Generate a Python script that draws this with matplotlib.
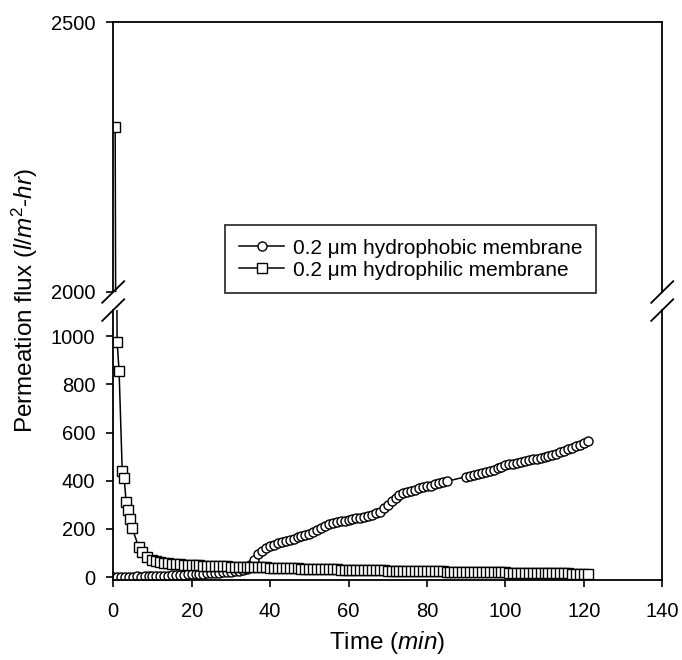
import numpy as np
import matplotlib
matplotlib.use("Agg")
import matplotlib.pyplot as plt

plt.rcParams['font.family'] = ['Liberation Sans', 'DejaVu Sans']
plt.rcParams['mathtext.fontset'] = 'custom'
plt.rcParams['mathtext.rm'] = 'Liberation Sans'
plt.rcParams['mathtext.it'] = 'Liberation Sans:italic'

# hydrophilic membrane (squares)
philic_t = [0.5, 1.0, 1.5, 2.3, 2.8, 3.3, 3.8, 4.3, 4.8, 6.5, 7.3, 8.5] + list(range(10, 122))
philic_flux = [2305, 975, 855, 440, 410, 310, 280, 240, 205, 125, 105, 85,
               72, 67, 63, 60, 58, 56, 55, 54, 52, 51, 50,
               49, 49, 48, 47, 47, 46, 46, 45, 45, 44,
               44, 43, 43, 42, 42, 41, 41, 40, 40, 39,
               39, 38, 38, 37, 37, 36, 36, 35, 35, 35,
               34, 34, 33, 33, 33, 32, 32, 31, 31, 31,
               30, 30, 30, 29, 29, 29, 28, 28, 28, 27,
               27, 27, 26, 26, 26, 26, 25, 25, 25, 25,
               24, 24, 24, 24, 23, 23, 23, 23, 22, 22,
               22, 22, 21, 21, 21, 21, 20, 20, 20, 20,
               19, 19, 19, 19, 18, 18, 18, 18, 17, 17,
               17, 17, 16, 16, 16, 16, 15, 15, 15, 15, 14]

# hydrophobic membrane (circles)
phobic_t = list(range(0, 86)) + list(range(90, 122))
phobic_flux = [2, 1, 2, 1, 2, 2, 3, 2, 3, 3,
               4, 4, 5, 5, 6, 7, 8, 9, 10, 11,
               12, 13, 14, 15, 16, 17, 18, 19, 20, 21,
               22, 24, 26, 28, 32, 50, 72, 95, 110, 120,
               128, 134, 140, 144, 150, 155, 160, 166, 170, 175,
               180, 186, 194, 203, 212, 220, 224, 228, 231, 234,
               237, 240, 244, 247, 250, 254, 258, 264, 272, 285,
               300, 315, 330, 340, 347, 352, 358, 363, 368, 372,
               376, 380, 385, 390, 393, 397,
               417, 420, 424, 428, 432, 436, 440, 446, 452, 458,
               465, 468, 470, 473, 476, 480, 484, 488, 491, 494,
               497, 502, 507, 512, 518, 524, 530, 537, 543, 550,
               557, 563]

fig = plt.figure(figsize=(6.82, 6.6), dpi=100)
ax_top = fig.add_axes([0.166, 0.5576, 0.805, 0.409])
ax_bot = fig.add_axes([0.166, 0.1212, 0.805, 0.409])

for ax in (ax_top, ax_bot):
    ax.plot(phobic_t, phobic_flux, color='black', lw=1.1, marker='o', ms=6.5,
            mfc='white', mec='black', mew=1.0, label='0.2 μm hydrophobic membrane')
    ax.plot(philic_t, philic_flux, color='black', lw=1.1, marker='s', ms=6.5,
            mfc='white', mec='black', mew=1.0, label='0.2 μm hydrophilic membrane')
    ax.set_xlim(0, 140)
    for s in ax.spines.values():
        s.set_linewidth(1.3)

ax_top.set_ylim(2000, 2500)
ax_top.set_yticks([2000, 2500])
ax_top.spines['bottom'].set_visible(False)
ax_top.tick_params(axis='x', which='both', bottom=False, labelbottom=False)
ax_top.tick_params(axis='y', direction='out', length=5, width=1.2, pad=8, labelsize=14.5)

ax_bot.set_ylim(-12, 1108)
ax_bot.set_yticks(range(0, 1001, 200))
ax_bot.set_xticks(range(0, 141, 20))
ax_bot.spines['top'].set_visible(False)
ax_bot.tick_params(axis='y', direction='out', length=5, width=1.2, pad=8, labelsize=14.5)
ax_bot.tick_params(axis='x', direction='out', length=5, width=1.2, pad=11, labelsize=14.5)

# break marks
d = 0.02
for x0 in (0, 1):
    ax_top.plot([x0 - d, x0 + d], [-0.04, 0.04], transform=ax_top.transAxes,
                color='black', lw=1.3, clip_on=False)
    ax_bot.plot([x0 - d, x0 + d], [1 - 0.04, 1 + 0.04], transform=ax_bot.transAxes,
                color='black', lw=1.3, clip_on=False)

leg = ax_top.legend(loc='upper left', bbox_to_anchor=(0.33, 0.659),
                    bbox_transform=fig.transFigure, borderaxespad=0,
                    fontsize=15, frameon=True, fancybox=False,
                    edgecolor='black', handlelength=2.2, handletextpad=0.4,
                    labelspacing=0.15, borderpad=0.65)
leg.get_frame().set_linewidth(1.3)

fig.text(0.036, 0.545, r'Permeation flux ($l/m^2$-$hr$)', rotation=90,
         ha='center', va='center', fontsize=17.5)
fig.text(0.567, 0.027, r'Time ($min$)', ha='center', va='center', fontsize=17.5)

fig.savefig('out.png', dpi=100)
